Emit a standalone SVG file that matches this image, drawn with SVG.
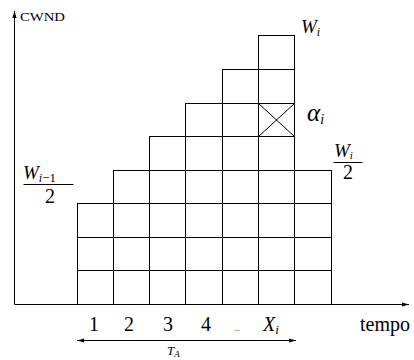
<svg xmlns="http://www.w3.org/2000/svg" width="414" height="360" viewBox="0 0 414 360">
<style>
.cell{fill:none;stroke:#000;stroke-width:1}
.ax{fill:none;stroke:#000;stroke-width:1}
.t{font-family:"Liberation Serif","DejaVu Serif","Times New Roman",serif;fill:#000}
.m{font-family:"Liberation Serif","DejaVu Serif","Times New Roman",serif;font-style:italic;fill:#000}
</style>
<defs>
<marker id="ah" viewBox="0 0 10 10" refX="10" refY="5" markerWidth="7" markerHeight="7" orient="auto-start-reverse" markerUnits="userSpaceOnUse">
<path d="M0,2 L10,5 L0,8 Z" fill="#000"/>
</marker>
</defs>
<g id="connectors">
<line class="ax" x1="14.5" y1="304.5" x2="14.5" y2="11" marker-end="url(#ah)"/>
<line class="ax" x1="14.5" y1="304.5" x2="409" y2="304.5" marker-end="url(#ah)"/>
<line class="ax" x1="77" y1="340.5" x2="296" y2="340.5" marker-start="url(#ah)" marker-end="url(#ah)"/>
</g>
<g id="col1">
<rect class="cell" x="77.5" y="270.5" width="36" height="34"/>
<rect class="cell" x="77.5" y="237.5" width="36" height="33"/>
<rect class="cell" x="77.5" y="203.5" width="36" height="34"/>
</g>
<g id="col2">
<rect class="cell" x="113.5" y="270.5" width="36" height="34"/>
<rect class="cell" x="113.5" y="237.5" width="36" height="33"/>
<rect class="cell" x="113.5" y="203.5" width="36" height="34"/>
<rect class="cell" x="113.5" y="170.5" width="36" height="33"/>
</g>
<g id="col3">
<rect class="cell" x="149.5" y="270.5" width="36" height="34"/>
<rect class="cell" x="149.5" y="237.5" width="36" height="33"/>
<rect class="cell" x="149.5" y="203.5" width="36" height="34"/>
<rect class="cell" x="149.5" y="170.5" width="36" height="33"/>
<rect class="cell" x="149.5" y="136.5" width="36" height="34"/>
</g>
<g id="col4">
<rect class="cell" x="185.5" y="270.5" width="37" height="34"/>
<rect class="cell" x="185.5" y="237.5" width="37" height="33"/>
<rect class="cell" x="185.5" y="203.5" width="37" height="34"/>
<rect class="cell" x="185.5" y="170.5" width="37" height="33"/>
<rect class="cell" x="185.5" y="136.5" width="37" height="34"/>
<rect class="cell" x="185.5" y="103.5" width="37" height="33"/>
</g>
<g id="col5">
<rect class="cell" x="222.5" y="270.5" width="36" height="34"/>
<rect class="cell" x="222.5" y="237.5" width="36" height="33"/>
<rect class="cell" x="222.5" y="203.5" width="36" height="34"/>
<rect class="cell" x="222.5" y="170.5" width="36" height="33"/>
<rect class="cell" x="222.5" y="136.5" width="36" height="34"/>
<rect class="cell" x="222.5" y="103.5" width="36" height="33"/>
<rect class="cell" x="222.5" y="69.5" width="36" height="34"/>
</g>
<g id="col6">
<rect class="cell" x="258.5" y="270.5" width="36" height="34"/>
<rect class="cell" x="258.5" y="237.5" width="36" height="33"/>
<rect class="cell" x="258.5" y="203.5" width="36" height="34"/>
<rect class="cell" x="258.5" y="170.5" width="36" height="33"/>
<rect class="cell" x="258.5" y="136.5" width="36" height="34"/>
<rect class="cell" x="258.5" y="103.5" width="36" height="33"/>
<line class="cell" x1="258.5" y1="103.5" x2="294.5" y2="136.5"/>
<line class="cell" x1="294.5" y1="103.5" x2="258.5" y2="136.5"/>
<rect class="cell" x="258.5" y="69.5" width="36" height="34"/>
<rect class="cell" x="258.5" y="35.5" width="36" height="34"/>
</g>
<g id="col7">
<rect class="cell" x="294.5" y="270.5" width="37" height="34"/>
<rect class="cell" x="294.5" y="237.5" width="37" height="33"/>
<rect class="cell" x="294.5" y="203.5" width="37" height="34"/>
<rect class="cell" x="294.5" y="170.5" width="37" height="33"/>
</g>
<g id="labels">
<text class="t" x="20" y="21" font-size="12" textLength="45" lengthAdjust="spacingAndGlyphs">CWND</text>
<text class="m" x="301" y="33" font-size="19">W<tspan font-size="12" dy="3">i</tspan></text>
<text class="m" x="307" y="121" font-size="25">α<tspan font-size="14" dy="3">i</tspan></text>
<text class="m" x="23" y="179" font-size="19">W<tspan font-size="12" dy="3">i</tspan><tspan class="t" font-style="normal" font-size="13">−1</tspan></text>
<line x1="23.5" y1="184.5" x2="73.5" y2="184.5" stroke="#000" stroke-width="1"/>
<text class="t" x="50" y="203" font-size="20" text-anchor="middle">2</text>
<text class="m" x="334" y="157" font-size="19">W<tspan font-size="11" dy="2">i</tspan></text>
<line x1="333.5" y1="162.5" x2="362.5" y2="162.5" stroke="#000" stroke-width="1"/>
<text class="t" x="348" y="179" font-size="20" text-anchor="middle">2</text>
<text class="t" x="94" y="331" font-size="20" text-anchor="middle">1</text>
<text class="t" x="129" y="331" font-size="20" text-anchor="middle">2</text>
<text class="t" x="168" y="331" font-size="20" text-anchor="middle">3</text>
<text class="t" x="206" y="331" font-size="20" text-anchor="middle">4</text>
<text class="t" x="237" y="331" font-size="8" text-anchor="middle">...</text>
<text class="m" x="263" y="331" font-size="20">X<tspan font-size="13" dy="3">i</tspan></text>
<text class="t" x="360" y="331" font-size="20">tempo</text>
<text class="m" x="167" y="355" font-size="13">T<tspan font-size="9" dy="1.5">A</tspan></text>
</g>
</svg>
